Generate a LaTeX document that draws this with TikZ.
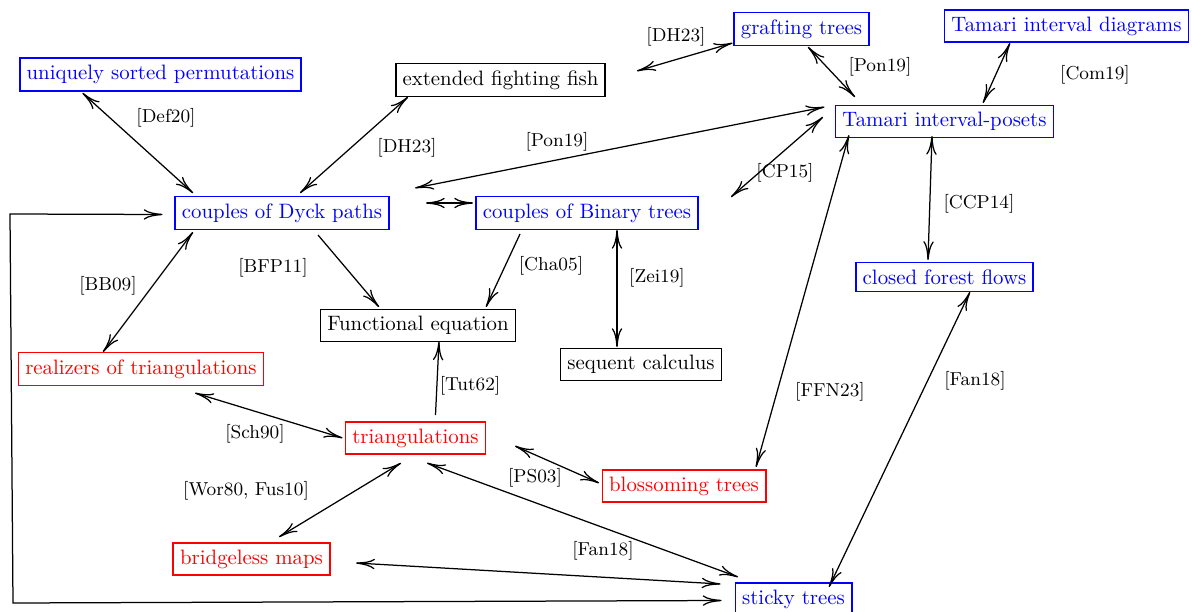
\documentclass[tikz,border=0pt]{standalone}
\usetikzlibrary{arrows.meta,calc}
\begin{document}
\begin{tikzpicture}[x=0.48pt,y=-0.48pt,
  box/.style={draw, line width=0.75pt, inner sep=3.3pt},
  bbox/.style={box, draw=blue, text=blue},
  rbox/.style={box, draw=red, text=red},
  kbox/.style={box, draw=black, text=black},
  lbl/.style={font=\small, inner sep=0pt},
  conn/.style={line width=0.6pt, {To[length=9pt,width=5pt]}-{To[length=9pt,width=5pt]}},
  conna/.style={line width=0.6pt, -{To[length=9pt,width=5pt]}}]
\useasboundingbox (0,0) rectangle (1192,612);
% nodes
\node[bbox] (usp) at (160.5,74.5) {uniquely sorted permutations};
\node[kbox] (eff) at (500.5,80) {extended fighting fish};
\node[bbox] (graft) at (801.5,29) {grafting trees};
\node[bbox] (tid) at (1066.5,26) {Tamari interval diagrams};
\node[bbox] (tip) at (944.5,121.5) {Tamari interval-posets};
\node[bbox] (dyck) at (282,213) {couples of Dyck paths};
\node[bbox] (bin) at (587,213) {couples of Binary trees};
\node[bbox] (cff) at (944.5,277) {closed forest flows};
\node[kbox] (func) at (418,325.5) {Functional equation};
\node[kbox] (seq) at (641,364.5) {sequent calculus};
\node[rbox] (real) at (141,369) {realizers of triangulations};
\node[rbox] (tri) at (415.5,438) {triangulations};
\node[rbox] (blos) at (684,486) {blossoming trees};
\node[rbox] (bridge) at (251.5,559) {bridgeless maps};
\node[bbox] (sticky) at (793.5,599.5) {sticky trees};
% free ends
\coordinate (fA) at (637,71);
\coordinate (fB) at (415,188);
\coordinate (fC) at (426,203);
\coordinate (fD) at (731,197);
\coordinate (fE) at (515,446);
\coordinate (lcA) at (13,603);
\coordinate (lcB) at (10,214);
% connectors
\draw[conn] ($(usp)+(-78,18.5)$) -- ($(dyck)+(-89,-20)$);
\draw[conn] ($(eff)+(-92.5,17)$) -- ($(dyck)+(18,-20)$);
\draw[conn] ($(graft)+(-69,14)$) -- (fA);
\draw[conn] ($(graft)+(6.5,18)$) -- ($(tip)+(-89.5,-24.5)$);
\draw[conn] ($(tid)+(-56.5,17)$) -- ($(tip)+(38.5,-18.5)$);
\draw[conn] ($(tip)+(-120,-14.5)$) -- (fB);
\draw[conn] (fC) -- ($(bin)+(-114,-10)$);
\draw[conn] ($(tip)+(-121.5,-4.5)$) -- (fD);
\draw[conn] ($(tip)+(-12.5,14.5)$) -- ($(cff)+(-16.5,-17)$);
\draw[conn] ($(tip)+(-95.5,13.5)$) -- ($(blos)+(72,-19)$);
\draw[conn] ($(cff)+(25.5,15)$) -- ($(sticky)+(35.5,-12.5)$);
\draw[conna] ($(dyck)+(36,22)$) -- ($(func)+(-39,-18.5)$);
\draw[conna] ($(bin)+(-67,21)$) -- ($(func)+(68,-18.5)$);
\draw[conn] ($(bin)+(30,17)$) -- ($(seq)+(-24,-17.5)$);
\draw[conn] ($(dyck)+(-89,19)$) -- ($(real)+(-38,-17)$);
\draw[conna] ($(tri)+(20,-23)$) -- ($(func)+(21,16)$);
\draw[conn] ($(real)+(54,24)$) -- ($(tri)+(-73,0)$);
\draw[conn] ($(tri)+(-14.5,25)$) -- ($(bridge)+(27.5,-22)$);
\draw[conn] (fE) -- ($(blos)+(-85,-3)$);
\draw[conn] ($(tri)+(11.5,25)$) -- ($(sticky)+(-55.5,-22.5)$);
\draw[conn] ($(bridge)+(104.5,4)$) -- ($(sticky)+(-73,-15.5)$);
\draw[conn] ($(sticky)+(-72,1)$) -- (lcA) -- (lcB) -- ($(dyck)+(-119.5,1.5)$);
% labels
\node[lbl] (l1) at (166,118) {[Def20]};
\node[lbl] (l2) at (407,148) {[DH23]};
\node[lbl] (l3) at (676,37) {[DH23]};
\node[lbl] (l4) at (880,67) {[Pon19]};
\node[lbl] (l5) at (1095,75) {[Com19]};
\node[lbl] (l6) at (557,142) {[Pon19]};
\node[lbl] (l7) at (785,173) {[CP15]};
\node[lbl] (l8) at (979,204) {[CCP14]};
\node[lbl] (l9) at (830,392) {[FFN23]};
\node[lbl] (l10) at (975,381) {[Fan18]};
\node[lbl] (l11) at (273,268) {[BFP11]};
\node[lbl] (l12) at (551,266) {[Cha05]};
\node[lbl] (l13) at (657,278) {[Zei19]};
\node[lbl] (l14) at (108,286) {[BB09]};
\node[lbl] (l15) at (470,386) {[Tut62]};
\node[lbl] (l16) at (255,434) {[Sch90]};
\node[lbl] (l17) at (246,491) {[Wor80, Fus10]};
\node[lbl] (l18) at (535,478) {[PS03]};
\node[lbl] (l19) at (603,551) {[Fan18]};
\end{tikzpicture}
\end{document}
